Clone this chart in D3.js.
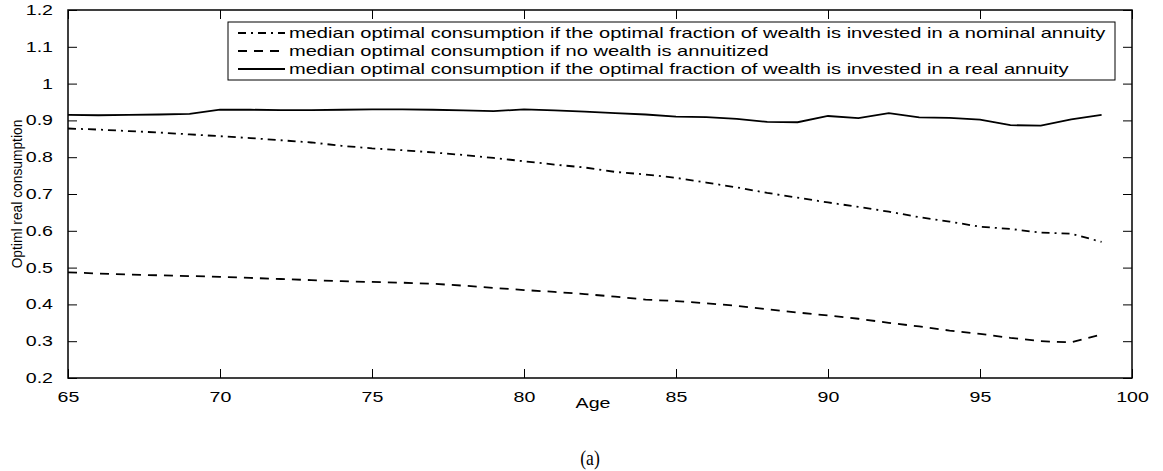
<!DOCTYPE html>
<html>
<head>
<meta charset="utf-8">
<script src="https://cdn.jsdelivr.net/npm/d3@7"></script>
<style>
  body { margin: 0; background: #fff; }
  svg { display: block; }
</style>
</head>
<body>
<svg id="chart" width="1163" height="471"></svg>
<script>
// ages 65..99
var ages = d3.range(65, 100);

// median optimal consumption, nominal annuity (dash-dot)
var nominalAnnuity = [0.878, 0.875, 0.871, 0.867, 0.862, 0.857, 0.852, 0.846, 0.840, 0.831,
  0.824, 0.819, 0.813, 0.806, 0.798, 0.789, 0.780, 0.772, 0.760, 0.753,
  0.744, 0.731, 0.718, 0.703, 0.690, 0.677, 0.665, 0.652, 0.637, 0.625,
  0.611, 0.605, 0.595, 0.592, 0.570];

// no wealth annuitized (dashed)
var noAnnuity = [0.487, 0.484, 0.481, 0.479, 0.477, 0.475, 0.472, 0.469, 0.466, 0.463,
  0.461, 0.459, 0.456, 0.451, 0.445, 0.439, 0.434, 0.428, 0.421, 0.413,
  0.409, 0.403, 0.396, 0.387, 0.378, 0.370, 0.361, 0.350, 0.340, 0.329,
  0.320, 0.309, 0.300, 0.297, 0.318];

// real annuity (solid)
var realAnnuity = [0.915, 0.914, 0.915, 0.916, 0.918, 0.929, 0.929, 0.928, 0.928, 0.929,
  0.930, 0.930, 0.929, 0.927, 0.925, 0.930, 0.927, 0.924, 0.920, 0.916,
  0.910, 0.909, 0.904, 0.896, 0.895, 0.912, 0.906, 0.920, 0.908, 0.907,
  0.902, 0.887, 0.886, 0.903, 0.915];

var xTicks = [65, 70, 75, 80, 85, 90, 95, 100];
var yTicks = [0.2, 0.3, 0.4, 0.5, 0.6, 0.7, 0.8, 0.9, 1, 1.1, 1.2];
var legendLabels = [
  "median optimal consumption if the optimal fraction of wealth is invested in a nominal annuity",
  "median optimal consumption if no wealth is annuitized",
  "median optimal consumption if the optimal fraction of wealth is invested in a real annuity"
];

var svg = d3.select("#chart"),
  margin = { top: 10, right: 31, bottom: 93, left: 68 },
  width = +svg.attr("width") - margin.left - margin.right,
  height = +svg.attr("height") - margin.top - margin.bottom;

var xScale = d3.scaleLinear().domain([65, 100]).range([0, width]);
var yScale = d3.scaleLinear().domain([0.2, 1.2]).range([height, 0]);

var g = svg.append("g")
  .attr("transform", "translate(" + margin.left + "," + margin.top + ")");

var tickFont = "'Liberation Sans', Arial, Helvetica, sans-serif";
var stretch = 1.4; // the picture's text is wide, stretch it horizontally
var legendStretch = 1.385;

// axes, ticks pointing inward, on all four sides
var axisBottom = d3.axisBottom(xScale).tickValues(xTicks).tickSize(-9).tickPadding(14)
  .tickFormat(d3.format("d"));
var axisTop = d3.axisTop(xScale).tickValues(xTicks).tickSize(-9).tickFormat("");
var axisLeft = d3.axisLeft(yScale).tickValues(yTicks).tickSize(-9).tickPadding(15)
  .tickFormat(function (d) { return d === 1 ? "1" : d3.format(".1f")(d); });
var axisRight = d3.axisRight(yScale).tickValues(yTicks).tickSize(-9).tickFormat("");

function styleAxis(sel) {
  sel.select(".domain").remove();
  sel.selectAll("line").attr("stroke", "#000").attr("stroke-width", 1);
  sel.selectAll("text").attr("fill", "#000")
    .style("font-family", tickFont).style("font-size", "14px")
    .attr("x", function () { return +d3.select(this).attr("x") / stretch; })
    .attr("transform", "scale(" + stretch + ",1)");
}

g.append("g").attr("transform", "translate(0," + height + ")").call(axisBottom).call(styleAxis);
g.append("g").call(axisTop).call(styleAxis);
g.append("g").call(axisLeft).call(styleAxis);
g.append("g").attr("transform", "translate(" + width + ",0)").call(axisRight).call(styleAxis);

g.append("rect")
  .attr("x", 0).attr("y", 0)
  .attr("width", width).attr("height", height)
  .attr("fill", "none")
  .attr("stroke", "#000")
  .attr("stroke-width", 1.5);

var series = [
  { values: nominalAnnuity, dash: "8,5,2,5" },
  { values: noAnnuity, dash: "9,7" },
  { values: realAnnuity, dash: null }
];

var lineGenerator = d3.line()
  .x(function (d, i) { return xScale(ages[i]); })
  .y(function (d) { return yScale(d); });

series.forEach(function (s) {
  g.append("path")
    .datum(s.values)
    .attr("fill", "none")
    .attr("stroke", "#000")
    .attr("stroke-width", 1.8)
    .attr("stroke-dasharray", s.dash)
    .attr("d", lineGenerator);
});

// legend box
var legend = svg.append("g").attr("transform", "translate(228,22)");
legend.append("rect")
  .attr("x", 0).attr("y", 0)
  .attr("width", 887).attr("height", 58)
  .attr("fill", "#fff")
  .attr("stroke", "#000")
  .attr("stroke-width", 1);

legendLabels.forEach(function (label, i) {
  var yy = 11 + i * 18;
  legend.append("line")
    .attr("x1", 10).attr("x2", 57)
    .attr("y1", yy).attr("y2", yy)
    .attr("stroke", "#000")
    .attr("stroke-width", 1.8)
    .attr("stroke-dasharray", series[i].dash);
  legend.append("text")
    .attr("x", 61 / legendStretch).attr("y", yy + 5)
    .attr("transform", "scale(" + legendStretch + ",1)")
    .style("font-family", tickFont)
    .style("font-size", "14.5px")
    .text(label);
});

// axis titles
svg.append("text")
  .attr("x", 593 / stretch)
  .attr("y", 408)
  .attr("transform", "scale(" + stretch + ",1)")
  .attr("text-anchor", "middle")
  .style("font-family", tickFont)
  .style("font-size", "14px")
  .text("Age");

svg.append("text")
  .attr("transform", "translate(22," + (margin.top + height / 2) + ") rotate(-90) scale(0.92,1)")
  .attr("text-anchor", "middle")
  .style("font-family", "'Liberation Sans Narrow', 'Liberation Sans', Arial, sans-serif")
  .style("font-size", "15px")
  .text("Optiml real consumption");

svg.append("text")
  .attr("transform", "translate(590,465) scale(0.88,1)")
  .attr("text-anchor", "middle")
  .style("font-family", "'Liberation Serif', 'Times New Roman', serif")
  .style("font-size", "20px")
  .text("(a)");
</script>
</body>
</html>
